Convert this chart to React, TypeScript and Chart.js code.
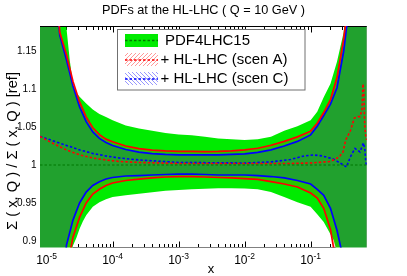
import React, { useEffect, useRef } from 'react';
import { Chart, registerables } from 'chart.js';
Chart.register(...registerables);

// ---------- data ----------
const X_MIN = 7.94e-6;
const X_MAX = 0.708;
const Y_MIN = 0.8914;
const Y_MAX = 1.1829;

// PDF4LHC15 band edges
const pdfUpX = [7.94e-6, 1e-5, 1.26e-5, 1.58e-5, 1.78e-5, 2e-5, 2.24e-5, 2.51e-5, 2.82e-5, 3.16e-5,
  3.98e-5, 5.01e-5, 6.31e-5, 7.94e-5, 1e-4, 1.58e-4, 2.51e-4, 3.98e-4, 6.31e-4, 1e-3,
  1.58e-3, 2.51e-3, 3.98e-3, 6.31e-3, 0.01, 0.0158, 0.0251, 0.0398, 0.0631, 0.1,
  0.126, 0.158, 0.2, 0.251, 0.316, 0.355, 0.398, 0.501, 0.708];
const pdfUp = [1.60, 1.50, 1.40, 1.30, 1.24, 1.180, 1.138, 1.106, 1.095, 1.0897,
  1.081, 1.073, 1.067, 1.063, 1.059, 1.052, 1.048, 1.045, 1.042, 1.040,
  1.039, 1.037, 1.035, 1.034, 1.033, 1.034, 1.037, 1.045, 1.051, 1.059,
  1.070, 1.089, 1.107, 1.136, 1.174, 1.22, 1.30, 1.40, 1.50];
const pdfDnX = [7.94e-6, 1e-5, 1.26e-5, 1.58e-5, 2e-5, 2.24e-5, 2.51e-5, 2.82e-5, 3.16e-5, 3.55e-5,
  3.98e-5, 5.01e-5, 6.31e-5, 7.94e-5, 1e-4, 1.58e-4, 2.51e-4, 3.98e-4, 6.31e-4, 1e-3,
  1.58e-3, 2.51e-3, 3.98e-3, 6.31e-3, 0.01, 0.0158, 0.0251, 0.0398, 0.0631, 0.1,
  0.126, 0.158, 0.2, 0.224, 0.251, 0.316, 0.398, 0.501, 0.708];
const pdfDn = [0.40, 0.50, 0.60, 0.70, 0.82, 0.875, 0.894, 0.904, 0.916, 0.926,
  0.934, 0.945, 0.951, 0.955, 0.958, 0.960, 0.962, 0.964, 0.966, 0.967,
  0.968, 0.9686, 0.9693, 0.9693, 0.969, 0.968, 0.9644, 0.958, 0.951, 0.945,
  0.935, 0.925, 0.909, 0.901, 0.885, 0.82, 0.72, 0.65, 0.55];

// HL-LHC scenario band edges
const scenX = [7.94e-6, 1e-5, 1.26e-5, 1.58e-5, 2e-5, 2.51e-5, 3.16e-5, 3.98e-5, 5.01e-5, 6.31e-5,
  7.94e-5, 1e-4, 1.58e-4, 2.51e-4, 3.98e-4, 6.31e-4, 1e-3, 1.58e-3, 2.51e-3, 3.98e-3,
  6.31e-3, 0.01, 0.0158, 0.0251, 0.0398, 0.0631, 0.1, 0.126, 0.158, 0.2,
  0.251, 0.316, 0.355, 0.398, 0.501, 0.708];
const scenAUp = [1.55, 1.42, 1.30, 1.175, 1.145, 1.11, 1.083, 1.063, 1.049, 1.040,
  1.034, 1.0305, 1.025, 1.0215, 1.0195, 1.0185, 1.018, 1.0178, 1.0175, 1.0178,
  1.0185, 1.0198, 1.022, 1.026, 1.031, 1.037, 1.0445, 1.055, 1.069, 1.086,
  1.115, 1.165, 1.20, 1.28, 1.38, 1.48];
const scenADn = [0.45, 0.55, 0.65, 0.75, 0.86, 0.905, 0.931, 0.950, 0.9617, 0.968,
  0.973, 0.9763, 0.9796, 0.9815, 0.983, 0.9842, 0.9848, 0.9848, 0.9842, 0.9835,
  0.983, 0.982, 0.981, 0.978, 0.975, 0.971, 0.963, 0.9565, 0.943, 0.915,
  0.865, 0.80, 0.76, 0.70, 0.62, 0.55];
const scenCUp = [1.55, 1.40, 1.28, 1.171, 1.1385, 1.104, 1.0765, 1.057, 1.0435, 1.035,
  1.0297, 1.0257, 1.0204, 1.017, 1.015, 1.0139, 1.0132, 1.0132, 1.0132, 1.0132,
  1.0139, 1.0145, 1.0165, 1.0198, 1.025, 1.031, 1.0396, 1.051, 1.065, 1.080,
  1.1016, 1.149, 1.185, 1.26, 1.35, 1.45];
const scenCDn = [0.45, 0.55, 0.65, 0.78, 0.8945, 0.9275, 0.950, 0.9644, 0.973, 0.978,
  0.9815, 0.9835, 0.9855, 0.986, 0.9868, 0.9875, 0.988, 0.988, 0.9875, 0.9868,
  0.9868, 0.9868, 0.986, 0.9848, 0.983, 0.9796, 0.975, 0.968, 0.960, 0.943,
  0.914, 0.875, 0.82, 0.75, 0.68, 0.60];

// central values
const pdfCenX = [7.94e-6, 0.708];
const pdfCen = [1.0, 1.0];
const scenACenX = [7.94e-6, 1.26e-5, 2e-5, 3.2e-5, 5e-5, 7.9e-5, 1.26e-4, 2.5e-4, 1e-3, 0.01,
  0.05, 0.1, 0.2, 0.27, 0.31, 0.34, 0.4, 0.46, 0.52, 0.56,
  0.6, 0.62, 0.64, 0.66, 0.69, 0.708];
const scenACen = [1.0375, 1.0283, 1.0197, 1.0132, 1.0092, 1.0066, 1.0046, 1.0033, 1.002, 1.002,
  1.002, 1.0026, 1.0046, 1.0105, 1.0171, 1.0329, 1.0447, 1.0618, 1.0636, 1.0636,
  1.0724, 1.1066, 1.0987, 1.0526, 1.0355, 1.0329];
const scenCCenX = [7.94e-6, 1.26e-5, 2e-5, 3.2e-5, 5e-5, 7.9e-5, 1.26e-4, 2.5e-4, 1e-3, 0.01,
  0.025, 0.05, 0.08, 0.11, 0.15, 0.22, 0.28, 0.35, 0.4, 0.47,
  0.56, 0.63, 0.66, 0.69, 0.708];
const scenCCen = [1.0376, 1.0317, 1.0257, 1.0198, 1.0152, 1.0119, 1.0092, 1.0066, 1.0033, 1.0026,
  1.004, 1.0073, 1.0119, 1.0132, 1.0119, 1.0079, 1.0026, 0.9974, 1.0106, 1.0218,
  1.0171, 1.029, 1.0224, 1.0026, 1.0];

const xMajor = [1e-5, 1e-4, 1e-3, 1e-2, 1e-1];
const xMajorExp = ['-5', '-4', '-3', '-2', '-1'];
const yTicks = [0.9, 0.95, 1, 1.05, 1.1, 1.15];
const yTickLabels = ['0.9', '0.95', '1', '1.05', '1.1', '1.15'];
const legendLabels = ['PDF4LHC15', '+ HL-LHC (scen A)', '+ HL-LHC (scen C)'];
const TITLE = 'PDFs at the HL-LHC ( Q = 10 GeV )';
const Y_TITLE = 'Σ ( x, Q ) / Σ ( x, Q ) [ref]';
const X_TITLE = 'x';

// ---------- styles ----------
const GREEN = 'rgb(0,235,0)';
const DARKGREEN = 'rgb(0,120,0)';
const RED = '#ff0000';
const BLUE = '#0000ff';
const SHADE_A = 'rgba(255,0,0,0.16)';
const SHADE_C = 'rgba(0,0,255,0.18)';
const FONT = "'Liberation Sans', Arial, Helvetica, sans-serif";

function bandPath(c: CanvasRenderingContext2D, pu: any[], pd: any[]) {
  c.beginPath();
  c.moveTo(pu[0].x, pu[0].y);
  for (let i = 1; i < pu.length; i++) c.lineTo(pu[i].x, pu[i].y);
  for (let i = pd.length - 1; i >= 0; i--) c.lineTo(pd[i].x, pd[i].y);
  c.closePath();
}

// legend swatch hatch: 1px diagonal lines inside a rectangle
function swatchHatch(c: CanvasRenderingContext2D, x0: number, y0: number, w: number, h: number, color: string, dir: number) {
  c.beginPath();
  for (let px = x0; px < x0 + w; px++) {
    for (let py = y0; py < y0 + h; py++) {
      const k = dir > 0 ? (px + py) % 4 : ((px - py) % 4 + 4) % 4;
      if (k === 0) c.rect(px, py, 1, 1);
    }
  }
  c.fillStyle = color;
  c.fill();
}

function fitFont(c: CanvasRenderingContext2D, text: string, target: number) {
  c.font = `12px ${FONT}`;
  const w = c.measureText(text).width;
  return `${(12 * target / w).toFixed(2)}px ${FONT}`;
}

export default function App() {
  const ref = useRef<HTMLCanvasElement>(null);
  useEffect(() => {
    const canvas = ref.current!;
    const ctx = canvas.getContext('2d')!;
    const pts = (xs: number[], ys: number[]) => xs.map((x, i) => ({ x, y: ys[i] }));
    const bands: [number, number, string][] = [[0, 1, GREEN], [2, 3, SHADE_A], [4, 5, SHADE_C]];

    const deco: any = {
      id: 'deco',
      beforeDatasetsDraw(chart: any) {
        const c = chart.ctx as CanvasRenderingContext2D;
        const { left, right, top, bottom } = chart.chartArea;
        const xs = chart.scales.x;
        const ys = chart.scales.y;
        // frame and ticks
        c.strokeStyle = '#000';
        c.lineWidth = 1;
        const L = Math.round(left) + 0.5, R = Math.round(right) - 0.5;
        const T = Math.round(top) + 0.5, B = Math.round(bottom) - 0.5;
        c.strokeRect(L, T, R - L, B - T);
        c.beginPath();
        const decades = [1e-6, ...xMajor];
        decades.forEach((d) => {
          for (let m = 1; m <= 9; m++) {
            const v = m * d;
            if (v < X_MIN || v > X_MAX) continue;
            const px = Math.round(xs.getPixelForValue(v)) + 0.5;
            const len = m === 1 ? 6 : 3.5;
            c.moveTo(px, B); c.lineTo(px, B - len);
            c.moveTo(px, T); c.lineTo(px, T + len);
          }
        });
        yTicks.forEach((v) => {
          const py = Math.round(ys.getPixelForValue(v)) + 0.5;
          c.moveTo(L, py); c.lineTo(L + 8, py);
          c.moveTo(R, py); c.lineTo(R - 8, py);
        });
        c.stroke();
        // bands
        bands.forEach(([iu, id, style]) => {
          bandPath(c, chart.getDatasetMeta(iu).data, chart.getDatasetMeta(id).data);
          c.fillStyle = style;
          c.fill();
        });
        // remove band overflow outside the frame
        c.fillStyle = '#fff';
        c.fillRect(0, 0, chart.width, top);
        c.fillRect(0, bottom, chart.width, chart.height - bottom);
        c.fillRect(0, 0, left, chart.height);
        c.fillRect(right, 0, chart.width - right, chart.height);
        c.strokeStyle = '#000';
        c.beginPath();
        c.moveTo(left, T); c.lineTo(right, T);
        c.stroke();
      },
      afterDraw(chart: any) {
        const c = chart.ctx as CanvasRenderingContext2D;
        const { left, bottom } = chart.chartArea;
        const xs = chart.scales.x;
        const ys = chart.scales.y;
        c.fillStyle = '#000';
        c.font = fitFont(c, TITLE, 203);
        c.textAlign = 'center';
        c.textBaseline = 'middle';
        c.fillText(TITLE, 203.5, 10.5);
        c.font = `10px ${FONT}`;
        c.textAlign = 'right';
        yTicks.forEach((v, i) => {
          c.fillText(yTickLabels[i], left - 3.5, ys.getPixelForValue(v) + 0.5);
        });
        xMajor.forEach((v, i) => {
          const px = xs.getPixelForValue(v);
          c.font = `12px ${FONT}`;
          const w1 = c.measureText('10').width;
          c.font = `8.5px ${FONT}`;
          const w2 = c.measureText(xMajorExp[i]).width;
          const x0 = px - (w1 + w2) / 2;
          c.textAlign = 'left';
          c.textBaseline = 'alphabetic';
          c.font = `12px ${FONT}`;
          c.fillText('10', x0, bottom + 16);
          c.font = `8.5px ${FONT}`;
          c.fillText(xMajorExp[i], x0 + w1, bottom + 11);
        });
        c.font = `13px ${FONT}`;
        c.textAlign = 'center';
        c.textBaseline = 'middle';
        c.fillText(X_TITLE, 211, 269);
        c.save();
        c.translate(12.5, 151);
        c.rotate(-Math.PI / 2);
        c.font = fitFont(c, Y_TITLE, 158);
        c.textAlign = 'center';
        c.textBaseline = 'middle';
        c.fillText(Y_TITLE, 0, 0);
        c.restore();
        // legend
        c.fillStyle = '#fff';
        c.fillRect(117.5, 29.5, 187.5, 60.5);
        c.strokeStyle = '#707070';
        c.lineWidth = 1;
        c.strokeRect(117.5, 29.5, 187.5, 60.5);
        const rows = [
          { y: 40, kind: 'green', line: DARKGREEN, tx: 165 },
          { y: 59.5, kind: 'A', line: RED, tx: 160.5 },
          { y: 78.5, kind: 'C', line: BLUE, tx: 160.5 },
        ];
        rows.forEach((r, i) => {
          const t = Math.round(r.y - 6.5);
          if (r.kind === 'green') {
            c.fillStyle = GREEN;
            c.fillRect(125, t, 33, 13);
          } else {
            swatchHatch(c, 125, t, 33, 13, r.kind === 'A' ? 'rgba(255,0,0,0.4)' : 'rgba(0,0,255,0.4)', r.kind === 'A' ? 1 : -1);
          }
          c.strokeStyle = r.line;
          c.lineWidth = 1.3;
          c.setLineDash([2.5, 2]);
          c.beginPath();
          c.moveTo(125, r.y + 0.5); c.lineTo(158, r.y + 0.5);
          c.stroke();
          c.setLineDash([]);
          c.fillStyle = '#000';
          c.font = `15px ${FONT}`;
          c.textAlign = 'left';
          c.textBaseline = 'middle';
          c.fillText(legendLabels[i], r.tx, r.y + 0.5);
        });
      },
    };

    const band = { pointRadius: 0, tension: 0, fill: false };
    const chart = new Chart(ctx, {
      type: 'line',
      data: {
        datasets: [
          { ...band, label: 'pdfUp', data: pts(pdfUpX, pdfUp), borderWidth: 0, borderColor: 'rgba(0,0,0,0)' },
          { ...band, label: 'pdfDn', data: pts(pdfDnX, pdfDn), borderWidth: 0, borderColor: 'rgba(0,0,0,0)' },
          { ...band, label: 'scenAUp', data: pts(scenX, scenAUp), borderWidth: 1.7, borderColor: RED },
          { ...band, label: 'scenADn', data: pts(scenX, scenADn), borderWidth: 1.7, borderColor: RED },
          { ...band, label: 'scenCUp', data: pts(scenX, scenCUp), borderWidth: 1.7, borderColor: BLUE },
          { ...band, label: 'scenCDn', data: pts(scenX, scenCDn), borderWidth: 1.7, borderColor: BLUE },
          { ...band, label: 'pdfCen', data: pts(pdfCenX, pdfCen), borderWidth: 1.2, borderColor: DARKGREEN, borderDash: [2.5, 2] },
          { ...band, label: 'scenACen', data: pts(scenACenX, scenACen), borderWidth: 1.6, borderColor: RED, borderDash: [2.5, 2] },
          { ...band, label: 'scenCCen', data: pts(scenCCenX, scenCCen), borderWidth: 1.6, borderColor: BLUE, borderDash: [2.5, 2] },
        ] as any,
      },
      options: {
        animation: false,
        responsive: false,
        devicePixelRatio: 1,
        events: [],
        layout: { padding: { left: 40, top: 26, right: 40.3, bottom: 28.5 } },
        scales: {
          x: { type: 'logarithmic', min: X_MIN, max: X_MAX, display: false },
          y: { type: 'linear', min: Y_MIN, max: Y_MAX, display: false },
        },
        plugins: {
          legend: { display: false },
          title: { display: false },
          tooltip: { enabled: false },
        } as any,
      },
      plugins: [deco],
    });
    return () => chart.destroy();
  }, []);

  return (
    <div style={{ position: 'fixed', left: 0, top: 0, width: 407, height: 276, background: '#fff' }}>
      <canvas ref={ref} width={407} height={276} style={{ display: 'block', width: 407, height: 276 }} />
    </div>
  );
}
